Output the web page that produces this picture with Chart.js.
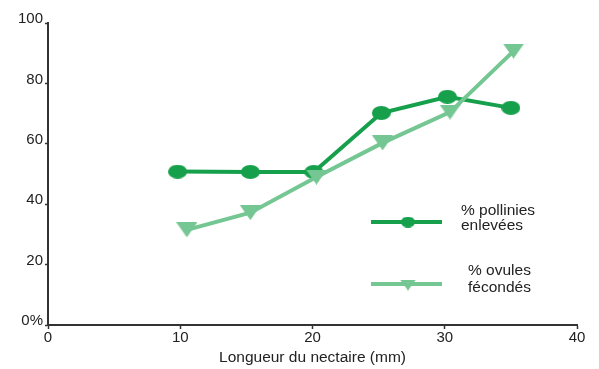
<!DOCTYPE html>
<html>
<head>
<meta charset="utf-8">
<script src="https://cdn.jsdelivr.net/npm/chart.js@4.4.1/dist/chart.umd.min.js"></script>
<style>
  html, body { margin: 0; padding: 0; background: #fff; }
  #wrap { position: relative; width: 599px; height: 369px; }
</style>
</head>
<body>
<div id="wrap"><canvas id="c" width="599" height="369"></canvas></div>
<script>
// ---- data ----
const seriesNames = ["% pollinies enlevées", "% ovules fécondés"];
const legendLines = [["% pollinies", "enlevées"], ["% ovules", "fécondés"]];
const polliniesX = [9.8, 15.3, 20.1, 25.2, 30.2, 35.0];
const polliniesY = [50.8, 50.7, 50.7, 70.2, 75.6, 71.9];
const ovulesX = [10.5, 15.3, 20.3, 25.3, 30.4, 35.2];
const ovulesY = [31.5, 37.2, 49.0, 60.3, 70.5, 90.7];
const xTicks = [0, 10, 20, 30, 40];
const yTicks = [0, 20, 40, 60, 80, 100];
const xTitle = "Longueur du nectaire (mm)";

const DARK = "#16a04c";
const LIGHT = "#74c692";
const FONT = "'Liberation Sans', Arial, sans-serif";

const toPts = (xs, ys) => xs.map((x, i) => ({ x: x, y: ys[i] }));

function ellipseMarker(w, h, color) {
  const c = document.createElement('canvas');
  c.width = w; c.height = h;
  const g = c.getContext('2d');
  g.fillStyle = color;
  g.beginPath();
  g.ellipse(w / 2, h / 2, w / 2, h / 2, 0, 0, Math.PI * 2);
  g.fill();
  return c;
}
function triangleMarker(w, h, color) {
  const c = document.createElement('canvas');
  c.width = w; c.height = h;
  const g = c.getContext('2d');
  g.fillStyle = color;
  g.beginPath();
  g.moveTo(0, 0);
  g.lineTo(w, 0);
  g.lineTo(w / 2, h);
  g.closePath();
  g.fill();
  return c;
}

const circleImg = ellipseMarker(19, 14, DARK);
const triImg = triangleMarker(21, 15, LIGHT);

const legendPlugin = {
  id: 'insideLegend',
  afterDraw(chart) {
    const ctx = chart.ctx;
    const entries = [
      { ds: chart.data.datasets[0], lines: legendLines[0], ly: 222, tx: 461, ty: [211, 226], img: ellipseMarker(14, 11, DARK), iy: 0 },
      { ds: chart.data.datasets[1], lines: legendLines[1], ly: 284, tx: 468, ty: [271, 288], img: triangleMarker(16, 11, LIGHT), iy: 1 }
    ];
    ctx.save();
    entries.forEach(e => {
      ctx.strokeStyle = e.ds.borderColor;
      ctx.lineWidth = 4;
      ctx.beginPath();
      ctx.moveTo(371, e.ly);
      ctx.lineTo(442, e.ly);
      ctx.stroke();
      ctx.drawImage(e.img, 408 - e.img.width / 2, e.ly - e.img.height / 2 + e.iy);
      ctx.fillStyle = '#222';
      ctx.font = "15.5px " + FONT;
      ctx.textBaseline = 'middle';
      ctx.textAlign = 'left';
      e.lines.forEach((t, i) => ctx.fillText(t, e.tx, e.ty[i]));
    });
    ctx.restore();
  }
};

new Chart(document.getElementById('c'), {
  type: 'scatter',
  data: {
    datasets: [
      {
        label: seriesNames[0],
        data: toPts(polliniesX, polliniesY),
        showLine: true,
        borderColor: DARK,
        backgroundColor: DARK,
        pointBackgroundColor: DARK,
        pointBorderColor: DARK,
        borderWidth: 4,
        pointStyle: circleImg,
        pointRadius: 8,
        order: 2
      },
      {
        label: seriesNames[1],
        data: toPts(ovulesX, ovulesY),
        showLine: true,
        borderColor: LIGHT,
        backgroundColor: LIGHT,
        pointBackgroundColor: LIGHT,
        pointBorderColor: LIGHT,
        borderWidth: 4,
        pointStyle: triImg,
        pointRadius: 10,
        order: 1
      }
    ]
  },
  options: {
    responsive: false,
    animation: false,
    devicePixelRatio: 1,
    layout: { padding: { top: 23, right: 22, left: 0, bottom: 0 } },
    plugins: { legend: { display: false }, tooltip: { enabled: false } },
    scales: {
      x: {
        type: 'linear',
        min: 0, max: 40,
        afterBuildTicks: s => { s.ticks = xTicks.map(v => ({ value: v })); },
        afterFit: s => { s.height = 44; },
        grid: { display: true, drawOnChartArea: false, drawTicks: true, tickLength: 4, color: '#333', tickWidth: 1.5 },
        border: { display: true, color: '#333', width: 2 },
        ticks: { color: '#222', font: { family: FONT, size: 15 }, padding: 0 },
        title: { display: true, text: xTitle, color: '#222', font: { family: FONT, size: 15.5 }, padding: { top: 0, bottom: 2 } }
      },
      y: {
        type: 'linear',
        min: 0, max: 100,
        afterBuildTicks: s => { s.ticks = yTicks.map(v => ({ value: v })); },
        afterFit: s => { s.width = 48; },
        grid: { display: true, drawOnChartArea: false, drawTicks: true, tickLength: 3, color: '#333', tickWidth: 1.5 },
        border: { display: true, color: '#333', width: 2 },
        ticks: {
          color: '#222', font: { family: FONT, size: 15 }, padding: 2, labelOffset: -4,
          callback: v => (v === 0 ? '0%' : String(v))
        }
      }
    }
  },
  plugins: [legendPlugin]
});
</script>
</body>
</html>
